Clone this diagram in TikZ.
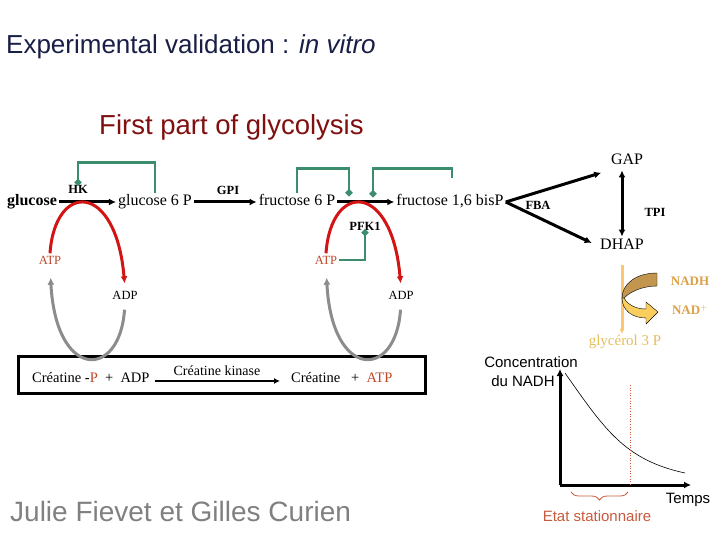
\documentclass[tikz,border=0pt]{standalone}
\usepackage{fontspec}
\setmainfont{Liberation Serif}
\setsansfont{Liberation Sans}
\usepackage{xcolor}
\usepackage{tikz}
\usetikzlibrary{arrows.meta, positioning, calc, decorations.pathreplacing}

\definecolor{titleBlue}{RGB}{25,30,70}
\definecolor{subRed}{RGB}{128,16,16}
\definecolor{authGray}{RGB}{128,128,128}
\definecolor{regGreen}{RGB}{60,140,110}
\definecolor{cofRed}{RGB}{210,20,20}
\definecolor{atpRed}{RGB}{190,70,40}
\definecolor{recGray}{RGB}{140,140,140}
\definecolor{nadLine}{RGB}{250,200,110}
\definecolor{nadText}{RGB}{220,160,70}
\definecolor{gpText}{RGB}{230,190,90}
\definecolor{bandDark}{RGB}{195,150,80}
\definecolor{bandLight}{RGB}{250,205,95}
\definecolor{statRed}{RGB}{200,90,60}

\begin{document}
\begin{tikzpicture}[
  x=1pt, y=-1pt,
  ttl/.style={font=\sffamily\fontsize{26}{30}\selectfont, inner sep=0pt},
  met/.style={font=\fontsize{16}{18}\selectfont, inner sep=2pt,
              text height=11pt, text depth=3.5pt},
  metb/.style={met, font=\fontsize{16}{18}\selectfont\bfseries},
  enz/.style={font=\fontsize{12.5}{14}\selectfont\bfseries, inner sep=1pt},
  cof/.style={font=\fontsize{12.5}{14}\selectfont, inner sep=2pt,
              text height=9pt, text depth=0pt},
  crt/.style={font=\fontsize{14.5}{17}\selectfont, inner sep=3pt,
              text height=10pt, text depth=3pt},
  lbl/.style={font=\sffamily\fontsize{15}{19}\selectfont, inner sep=1pt},
  rxn/.style={draw=black, line width=3pt, -{Latex[length=7pt,width=7pt]}},
  reg/.style={draw=regGreen, line width=2.6pt, -{Circle[length=6.5pt,width=6.5pt,sep=-2pt]}},
  cofarc/.style={draw=cofRed, line width=3pt, -{Latex[length=7pt,width=7pt]}},
  recarc/.style={draw=recGray, line width=3pt, -{Latex[length=7pt,width=7pt]}},
  ckbox/.style={draw=black, line width=3pt, minimum width=407pt,
                minimum height=37pt, inner sep=0pt},
  axis/.style={draw=black, line width=3pt, -{Latex[length=7pt,width=7pt]}},
]
\useasboundingbox (0,0) rectangle (720,540);

% Titles
\node[ttl, anchor=base west, text=titleBlue] (ttl) at (6,54)
  {Experimental validation : \textit{in vitro}};
\node[ttl, anchor=base west, text=subRed, font=\sffamily\fontsize{27.5}{30}\selectfont] (sub) at (99,135)
  {First part of glycolysis};
\node[ttl, anchor=base west, text=authGray, font=\sffamily\fontsize{28}{30}\selectfont] (auth) at (10,521)
  {Julie Fievet et Gilles Curien};

% Pathway
\node[metb] (glc)  at (32,202)  {glucose};
\node[met]  (g6p)  at (155,202) {glucose 6 P};
\node[met]  (f6p)  at (297,202) {fructose 6 P};
\node[met]  (fbp)  at (450,202) {fructose 1,6 bisP};
\node[met]  (gap)  at (627,161) {GAP};
\node[met]  (dhap) at (622,246) {DHAP};

% Enzymes
\node[enz] (hk)  at (78,189)  {HK};
\node[enz] (gpi) at (228,190) {GPI};
\node[enz] (pfk) at (365,226) {PFK1};
\node[enz] (fba) at (538,205) {FBA};
\node[enz] (tpi) at (655,212) {TPI};

% Cofactors
\node[cof, text=atpRed] (atp1) at (50,260)  {ATP};
\node[cof]              (adp1) at (125,295) {ADP};
\node[cof, text=atpRed] (atp2) at (326,260) {ATP};
\node[cof]              (adp2) at (401,295) {ADP};

% Reactions
\draw[rxn] (glc) -- (g6p);
\draw[rxn] (g6p) -- (f6p);
\draw[rxn] (f6p) -- (fbp);
\draw[rxn, shorten >=8pt] (fbp.east) -- (gap.south west);
\draw[rxn, shorten >=7pt] (fbp.east) -- (dhap.west);
\draw[rxn, {Latex[length=7pt,width=7pt]}-{Latex[length=7pt,width=7pt]}]
  (dhap.north) -- (dhap.north |- gap.south);

% Regulations
\coordinate (pfkA) at (349,194);
\coordinate (pfkB) at (373,195);
\draw[reg] (g6p.north) -- ++(0,-30) -| (hk.north);
\draw[reg] (f6p.north) -- ++(0,-24) -| (pfkA);
\draw[reg] ([shift={(2,-15)}]fbp.north) -- ++(0,-9) -| (pfkB);
\draw[reg] (atp2.east) -| (pfk.south);

% ATP -> ADP
\draw[cofarc, shorten >=5pt] (atp1.north) .. controls +(5,-72) and +(-9,-107) .. (adp1.north);
\draw[cofarc, shorten >=5pt] (atp2.north) .. controls +(5,-72) and +(-9,-107) .. (adp2.north);

% Creatine kinase regeneration
\node[ckbox] (box) at (222,375) {};
\node[crt, anchor=west] (crp) at (29,379)
  {Créatine -{\color{atpRed}P} \ + \ ADP};
\node[crt, anchor=west] (cr) at (288,379)
  {Créatine \ \ + \ {\color{atpRed}ATP}};
\node[font=\fontsize{14}{16}\selectfont, inner sep=1pt] (ck) at (217,371) {Créatine kinase};
\draw[draw=black, line width=2.4pt, -{Latex[length=6pt,width=6pt]}, shorten <=2pt, shorten >=8pt]
  ([yshift=-2pt]crp.east) -- ([yshift=-2pt]cr.west);
\draw[recarc, shorten <=8pt, shorten >=11pt] (adp1.south) .. controls +(-5,78) and +(6,114) .. (atp1.south);
\draw[recarc, shorten <=8pt, shorten >=11pt] (adp2.south) .. controls +(-5,78) and +(6,114) .. (atp2.south);

% NADH consumption
\node[font=\fontsize{15}{17}\selectfont, text=gpText, inner sep=1pt] (g3p) at (625,342) {glycérol 3 P};
\node[font=\fontsize{13}{15}\selectfont\bfseries, text=nadText, inner sep=1pt] (nadh) at (690,281) {NADH};
\node[font=\fontsize{13}{15}\selectfont\bfseries, text=nadText, inner sep=1pt] (nad) at (690,310) {NAD$^{+}$};
\draw[draw=nadLine, line width=3pt, -{Latex[length=5pt,width=5pt]}, shorten <=10pt]
  (dhap.south) -- (dhap.south |- g3p.north);
\fill[bandLight, draw=black, line width=0.4pt]
  (622,298) .. controls (622,310) and (632,318) .. (646,318) -- (646,324)
  -- (658,312) -- (646,302) -- (646,309)
  .. controls (636,309) and (628,305) .. (624,298) -- cycle;
\fill[bandDark, draw=black, line width=0.4pt]
  (657,273) .. controls (636,273) and (622,284) .. (622,298)
  -- (624,298) .. controls (630,292) and (642,286) .. (657,286) -- cycle;

% NADH graph
\coordinate (orig) at (560,485);
\coordinate (ytop) at (560,369);
\coordinate (xend) at (691,485);
\draw[axis] (orig) -- (ytop);
\draw[axis] (orig) -- (xend);
\draw[black, line width=0.6pt] (565,373) .. controls (605,430) and (625,460) .. (685,473);
\draw[statRed, line width=0.6pt, dotted] (630,385) -- (630,485);
\draw[statRed, line width=0.8pt, decorate, decoration={brace, amplitude=8pt, mirror}]
  (571,492) -- (628,492);
\node[lbl, align=center] (conc) at (531,372) {Concentration\\du NADH\hspace*{16pt}};
\node[lbl] (temps) at (688,500) {Temps};
\node[lbl, text=statRed] (etat) at (597,516) {Etat stationnaire};

\end{tikzpicture}
\end{document}
